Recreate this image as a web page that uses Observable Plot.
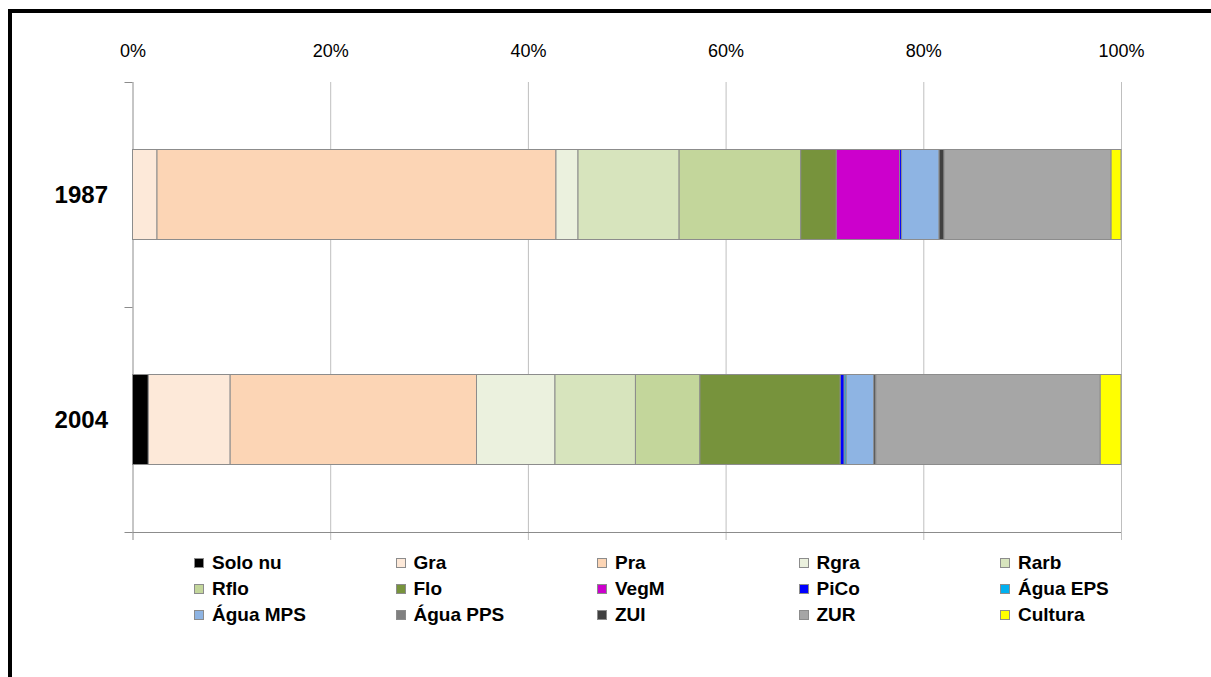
<!DOCTYPE html>
<html><head><meta charset="utf-8">
<script src="https://cdn.jsdelivr.net/npm/d3@7"></script>
<script src="https://cdn.jsdelivr.net/npm/@observablehq/plot@0.6"></script>
<style>
html,body{margin:0;padding:0;background:#fff;width:1211px;height:677px;overflow:hidden;}
#frame{position:absolute;left:8px;top:9px;width:1400px;height:900px;border-left:4px solid #000;border-top:4px solid #000;}
#chart{position:absolute;left:0;top:0;}
#legend{position:absolute;left:212px;top:553px;display:grid;grid-template-columns:repeat(5,201.5px);grid-auto-rows:26px;}
.item{position:relative;font:bold 19px "Liberation Sans",Arial,sans-serif;color:#000;white-space:nowrap;line-height:20px;}
.sw{position:absolute;left:-18px;top:5px;width:10px;height:10px;border:1px solid #8c8c8c;box-sizing:border-box;}
</style></head><body>
<div id="frame"></div>
<div id="chart"></div>
<div id="legend"></div>
<script>
const years = ["1987", "2004"];
const categories = ["Solo nu","Gra","Pra","Rgra","Rarb","Rflo","Flo","VegM","PiCo","Água EPS","Água MPS","Água PPS","ZUI","ZUR","Cultura"];
const colors = ["#000000","#FDE9D9","#FCD5B5","#EBF1DE","#D7E4BD","#C3D69B","#77933C","#CC00CC","#0000FF","#00B0F0","#8EB4E3","#808080","#404040","#A6A6A6","#FFFF00"];
const values1987 = [0, 2.48, 40.36, 2.23, 10.23, 12.3, 3.6, 6.4, 0.2, 0, 3.8, 0, 0.5, 16.9, 1.0];
const values2004 = [1.6, 8.28, 24.92, 7.94, 8.14, 6.52, 14.2, 0, 0.4, 0.2, 2.8, 0, 0.2, 22.7, 2.1];
const xTicks = [0, 20, 40, 60, 80, 100];

const seriesByYear = {"1987": values1987, "2004": values2004};
const rows = [];
for (const year of years) {
  const vals = seriesByYear[year];
  const total = d3.sum(vals);
  let acc = 0;
  vals.forEach((v, i) => {
    const pct = v / total * 100;
    if (v > 0) rows.push({year, cat: categories[i], x1: acc, x2: acc + pct});
    acc += pct;
  });
}

const plot = Plot.plot({
  width: 1211,
  height: 541,
  marginLeft: 132.5,
  marginRight: 90,
  marginTop: 82,
  marginBottom: 1,
  x: {domain: [0, 100], label: null},
  y: {domain: [0, years.length], range: [82, 532], label: null},
  color: {domain: categories, range: colors},
  style: {fontFamily: "'Liberation Sans', Arial, sans-serif", background: "transparent", color: "#000"},
  marks: [
    Plot.gridX(xTicks.slice(1), {stroke: "#bfbfbf", strokeOpacity: 1}),
    Plot.ruleX([0], {stroke: "#8c8c8c"}),
    Plot.ruleY([years.length], {stroke: "#8c8c8c"}),
    Plot.axisY(d3.range(years.length + 1), {tickSize: 8, tickFormat: () => "", stroke: "#8c8c8c", label: null}),
    Plot.axisY(years.map((_, i) => i + 0.5), {tickSize: 0, tickPadding: 25, tickFormat: v => years[Math.floor(v)], fontSize: 24, fontWeight: "bold", label: null}),
    Plot.axisX(xTicks, {anchor: "top", tickSize: 0, tickPadding: 26, tickFormat: d => d + "%", fontSize: 18, label: null}),
    Plot.rect(rows, {
      x1: "x1", x2: "x2",
      y1: d => years.indexOf(d.year) + 0.3,
      y2: d => years.indexOf(d.year) + 0.7,
      fill: "cat",
      stroke: "#8c8c8c",
      strokeWidth: 1
    })
  ]
});
document.getElementById("chart").appendChild(plot);

const legend = document.getElementById("legend");
categories.forEach((c, i) => {
  const it = document.createElement("div");
  it.className = "item";
  const sw = document.createElement("span");
  sw.className = "sw";
  sw.style.background = colors[i];
  it.appendChild(sw);
  it.appendChild(document.createTextNode(c));
  legend.appendChild(it);
});
</script>
</body></html>
